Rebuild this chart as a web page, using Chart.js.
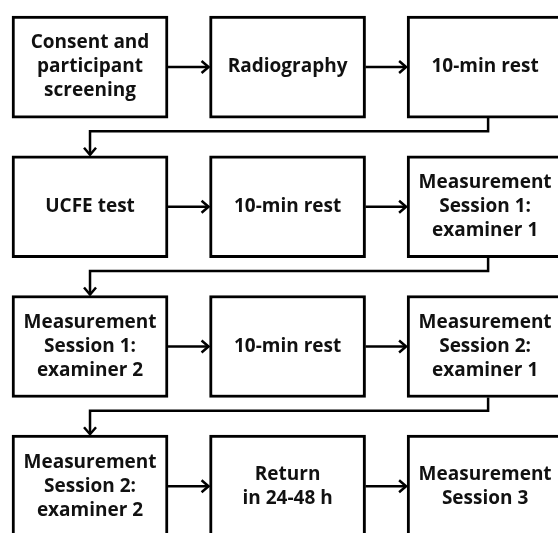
<!DOCTYPE html>
<html>
<head>
<meta charset="utf-8">
<script src="https://cdn.jsdelivr.net/npm/chart.js@4.4.0/dist/chart.umd.min.js"></script>
<style>
  html, body { margin: 0; padding: 0; background: #fff; }
  #wrap { width: 558px; height: 533px; }
</style>
</head>
<body>
<div id="wrap"><canvas id="flow" width="558" height="533"></canvas></div>
<script>
// flowchart steps, read left to right, top to bottom
const steps = [
  ["Consent and", "participant", "screening"], ["Radiography"], ["10-min rest"],
  ["UCFE test"], ["10-min rest"], ["Measurement", "Session 1:", "examiner 1"],
  ["Measurement", "Session 1:", "examiner 2"], ["10-min rest"], ["Measurement", "Session 2:", "examiner 1"],
  ["Measurement", "Session 2:", "examiner 2"], ["Return", "in 24-48 h"], ["Measurement", "Session 3"]
];
const stepCols = [0, 1, 2, 0, 1, 2, 0, 1, 2, 0, 1, 2];
const stepRows = [0, 0, 0, 1, 1, 1, 2, 2, 2, 3, 3, 3];

const boxHalf = 0.365;   // half box height in row units
const turnAt = 0.46;     // where the return line runs below a row

const boxes = steps.map((s, i) => ({ x: stepCols[i], y: [stepRows[i] - boxHalf, stepRows[i] + boxHalf] }));

const arrowHead = (ctx, x, y, dir) => {
    ctx.beginPath();
    if (dir === 'right') {
        ctx.moveTo(x - 8, y - 6);
        ctx.lineTo(x - 1, y);
        ctx.lineTo(x - 8, y + 6);
    } else {
        ctx.moveTo(x - 6, y - 8);
        ctx.lineTo(x, y - 1);
        ctx.lineTo(x + 6, y - 8);
    }
    ctx.stroke();
}

const flowPlugin = {
    id: 'flow',
    afterDatasetsDraw(chart) {
        const ctx = chart.ctx;
        const bars = chart.getDatasetMeta(0).data;
        const ys = chart.scales.y;
        ctx.save();
        ctx.strokeStyle = '#000';
        ctx.lineWidth = 2.5;
        ctx.lineJoin = 'miter';

        bars.forEach((bar, i) => {
            const next = bars[i + 1];
            if (!next) return;
            const top = Math.min(bar.y, bar.base);
            const bottom = Math.max(bar.y, bar.base);
            if (stepRows[i + 1] === stepRows[i]) {
                const midY = (top + bottom) / 2;
                const from = bar.x + bar.width / 2;
                const to = next.x - next.width / 2;
                ctx.beginPath();
                ctx.moveTo(from, midY);
                ctx.lineTo(to - 1, midY);
                ctx.stroke();
                arrowHead(ctx, to, midY, 'right');
            } else {
                const turnY = ys.getPixelForValue(stepRows[i] + turnAt);
                const nextTop = Math.min(next.y, next.base);
                ctx.beginPath();
                ctx.moveTo(bar.x + 3, bottom);
                ctx.lineTo(bar.x + 3, turnY);
                ctx.lineTo(next.x, turnY);
                ctx.lineTo(next.x, nextTop - 1);
                ctx.stroke();
                arrowHead(ctx, next.x, nextTop, 'down');
            }
        });

        // box labels
        ctx.fillStyle = '#111';
        ctx.font = 'bold 19px "Open Sans", sans-serif';
        ctx.textAlign = 'center';
        ctx.textBaseline = 'middle';
        const lineH = 24;
        bars.forEach((bar, i) => {
            const midY = (bar.y + bar.base) / 2;
            const lines = steps[i];
            lines.forEach((t, k) => {
                ctx.fillText(t, bar.x, midY + (k - (lines.length - 1) / 2) * lineH);
            });
        });
        ctx.restore();
    }
};

new Chart(document.getElementById('flow'), {
    type: 'bar',
    data: {
        datasets: [{
            data: boxes,
            backgroundColor: '#fff',
            borderColor: '#000',
            borderWidth: 3,
            borderSkipped: false,
            barThickness: 156,
            clip: false
        }]
    },
    options: {
        responsive: false,
        animation: false,
        layout: { padding: 0 },
        plugins: { legend: { display: false }, tooltip: { enabled: false } },
        scales: {
            x: { type: 'linear', display: false, offset: false, min: -0.4557, max: 2.369 },
            y: { type: 'linear', display: false, offset: false, reverse: true, min: -0.48, max: 3.335 }
        }
    },
    plugins: [flowPlugin]
});
</script>
</body>
</html>
